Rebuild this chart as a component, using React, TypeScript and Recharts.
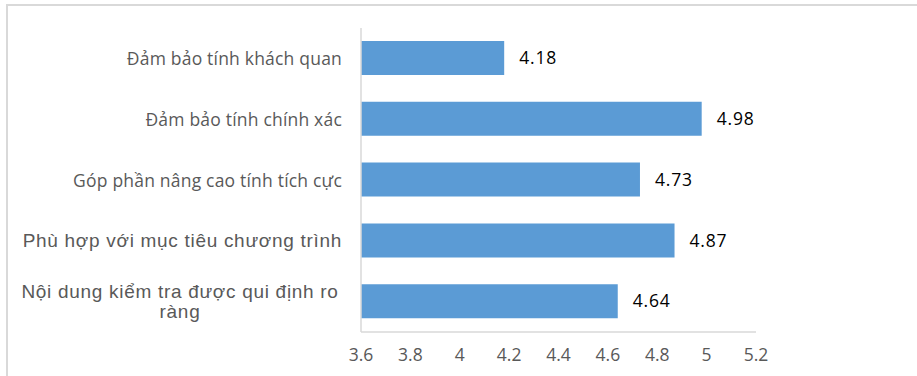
import React from 'react';
import { BarChart, Bar, XAxis, YAxis, LabelList } from 'recharts';

// Criteria shown on the category axis, top to bottom
const categories = [
  'Đảm bảo tính khách quan',
  'Đảm bảo tính chính xác',
  'Góp phần nâng cao tính tích cực',
  'Phù hợp với mục tiêu chương trình',
  'Nội dung kiểm tra được qui định ro ràng',
];

// Mean score of each criterion
const scores = [4.18, 4.98, 4.73, 4.87, 4.64];

// Value axis ticks
const xTicks = [3.6, 3.8, 4, 4.2, 4.4, 4.6, 4.8, 5, 5.2];

const data = categories.map((name, i) => ({ name, score: scores[i] }));

const BAR_COLOR = '#5B9BD5';
const AXIS_COLOR = '#D9D9D9';
const TEXT_GREY = '#595959';

// Break a long label into lines of at most maxChars characters
function wrapLabel(text: string, maxChars: number): string[] {
  const words = text.split(' ');
  const lines: string[] = [];
  let cur = '';
  for (const w of words) {
    const next = cur ? cur + ' ' + w : w;
    if (next.length > maxChars && cur) {
      lines.push(cur);
      cur = w;
    } else {
      cur = next;
    }
  }
  if (cur) lines.push(cur);
  return lines;
}

function CategoryTick(props: any) {
  const { x, y, payload } = props;
  const idx = categories.indexOf(payload.value);
  const plain = idx >= 3;
  const fontFamily = plain ? '"Liberation Sans", Arial, sans-serif' : '"Open Sans", sans-serif';
  const fontSize = plain ? 19 : 17.5;
  const letterSpacing = plain ? 0.7 : 0.2;
  const lines = wrapLabel(payload.value, 34);
  if (lines.length === 1) {
    return (
      <text x={x} y={y} textAnchor="end" dominantBaseline="central" fill={TEXT_GREY} fontFamily={fontFamily} fontSize={fontSize} letterSpacing={letterSpacing}>
        {lines[0]}
      </text>
    );
  }
  const lineH = 20;
  const cx = x - 162;
  return (
    <g>
      {lines.map((ln, i) => (
        <text
          key={i}
          x={cx}
          y={y + (i - (lines.length - 1) / 2) * lineH}
          textAnchor="middle"
          dominantBaseline="central"
          fill={TEXT_GREY}
          fontFamily={fontFamily}
          fontSize={fontSize}
          letterSpacing={letterSpacing}
        >
          {ln}
        </text>
      ))}
    </g>
  );
}

export default function App() {
  return (
    <div style={{ position: 'absolute', left: 0, top: 0, width: 917, height: 376, overflow: 'hidden', background: '#fff' }}>
      <div
        style={{
          position: 'absolute',
          left: 6,
          top: 4,
          width: 1200,
          height: 600,
          borderTop: `2px solid ${AXIS_COLOR}`,
          borderLeft: `2px solid ${AXIS_COLOR}`,
        }}
      />
      <BarChart
        width={917}
        height={376}
        data={data}
        layout="vertical"
        margin={{ top: 28, right: 161, bottom: 14, left: 0 }}
        barSize={34}
        style={{ position: 'absolute', left: 0, top: 0 }}
      >
        <XAxis
          type="number"
          domain={[3.6, 5.2]}
          ticks={xTicks}
          tickFormatter={(v: number) => String(v)}
          axisLine={{ stroke: AXIS_COLOR, strokeWidth: 1.5 }}
          tickLine={false}
          tickSize={0}
          tickMargin={17}
          tick={{ fill: TEXT_GREY, fontSize: 17.5, fontFamily: '"Open Sans", sans-serif' }}
          interval={0}
        />
        <YAxis
          type="category"
          dataKey="name"
          width={361}
          axisLine={{ stroke: AXIS_COLOR, strokeWidth: 1.5 }}
          tickLine={false}
          tickSize={0}
          tickMargin={19}
          tick={<CategoryTick />}
          interval={0}
        />
        <Bar dataKey="score" fill={BAR_COLOR} isAnimationActive={false}>
          <LabelList
            dataKey="score"
            position="right"
            offset={15}
            fill="#000"
            fontSize={17.5}
            fontFamily='"Open Sans", sans-serif'
            letterSpacing={0.8}
          />
        </Bar>
      </BarChart>
    </div>
  );
}
